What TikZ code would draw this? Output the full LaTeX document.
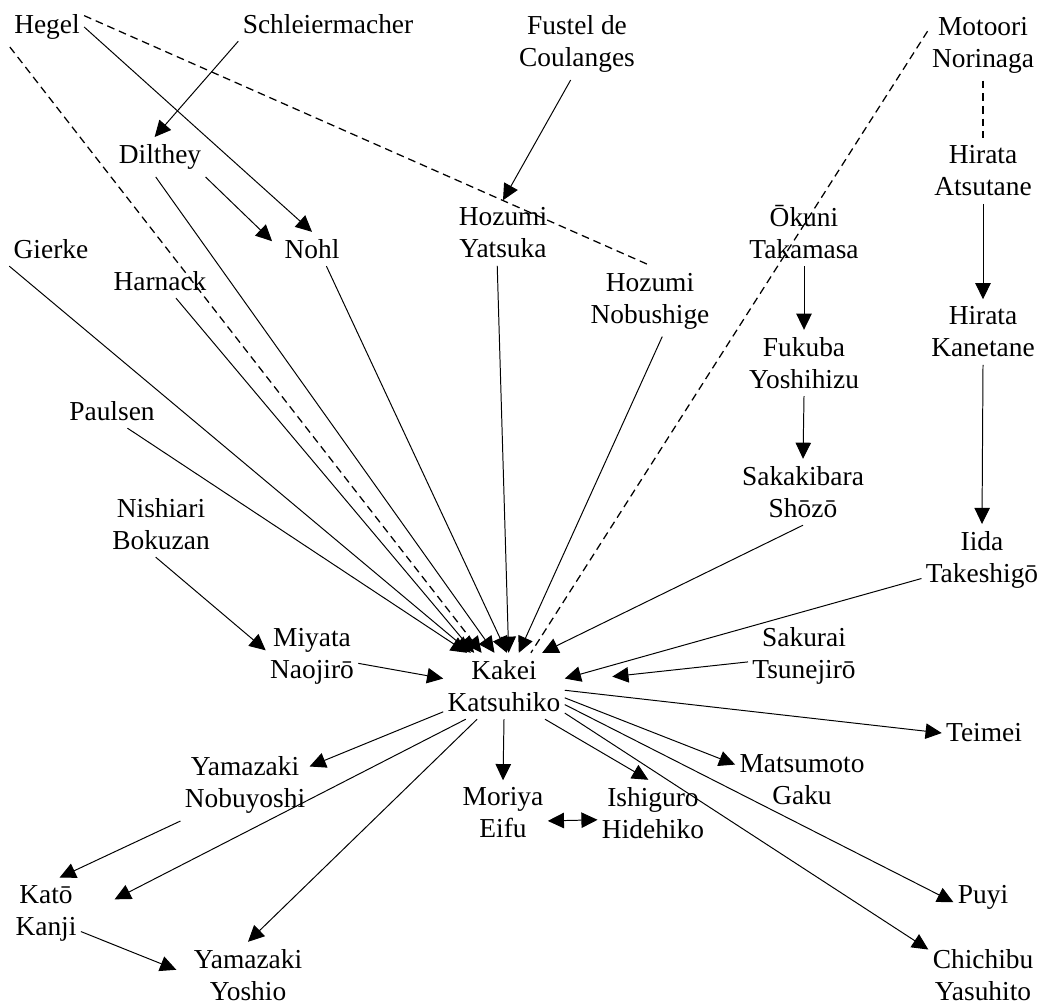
\documentclass[tikz,border=0pt]{standalone}
\usepackage{fontspec}
\setmainfont{Liberation Serif}
\usetikzlibrary{arrows.meta}

\begin{document}
\begin{tikzpicture}[x=0.25mm, y=-0.25mm, line width=0.7pt,
  >={Triangle[length=11.5pt,width=11pt]},
  person/.style={align=center, inner xsep=2.8pt, inner ysep=5pt,
    font=\fontsize{19.5}{22.8}\selectfont},
  faint/.style={dash pattern=on 5.5pt off 3.5pt, line width=0.9pt}]
  \useasboundingbox (0,0) rectangle (1046,1005);

  % top rows
  \node[person] (hegel) at (47,27) {Hegel};
  \node[person] (schl) at (328,24) {Schleiermacher};
  \node[person] (fustel) at (577,44) {Fustel de\\Coulanges};
  \node[person] (motoori) at (983,45) {Motoori\\Norinaga};
  \node[person] (dilthey) at (160,157) {Dilthey};
  \node[person] (atsutane) at (983,171) {Hirata\\Atsutane};
  \node[person] (gierke) at (51,249) {Gierke};
  \node[person] (nohl) at (312,249) {Nohl};
  \node[person] (hozumiy) at (503,233) {Hozumi\\Yatsuka};
  \node[person] (okuni) at (804,232) {Ōkuni\\Takamasa};
  \node[person] (harnack) at (160,281) {Harnack};
  \node[person] (hozumin) at (650,301) {Hozumi\\Nobushige};
  \node[person] (kanetane) at (983,332) {Hirata\\Kanetane};
  \node[person] (fukuba) at (804,363) {Fukuba\\Yoshihizu};
  \node[person] (paulsen) at (112,411) {Paulsen};
  \node[person] (sakakibara) at (803,492) {Sakakibara\\Shōzō};
  \node[person] (nishiari) at (161,524) {Nishiari\\Bokuzan};
  \node[person] (iida) at (982,560) {Iida\\Takeshigō};
  \node[person] (miyata) at (312,656) {Miyata\\Naojirō};
  \node[person] (sakurai) at (804,656) {Sakurai\\Tsunejirō};

  % centre
  \node[person] (kakei) at (504,686) {Kakei\\Katsuhiko};

  % lower rows
  \node[person] (teimei) at (984,733) {Teimei};
  \node[person] (nobuyoshi) at (245,785) {Yamazaki\\Nobuyoshi};
  \node[person] (matsumoto) at (802,780) {Matsumoto\\Gaku};
  \node[person] (moriya) at (503,813) {Moriya\\Eifu};
  \node[person] (ishiguro) at (653,813) {Ishiguro\\Hidehiko};
  \node[person] (puyi) at (983,897) {Puyi};
  \node[person] (kato) at (46,913) {Katō\\Kanji};
  \node[person] (yoshio) at (248,975) {Yamazaki\\Yoshio};
  \node[person] (chichibu) at (983,975) {Chichibu\\Yasuhito};

  % side lines
  \draw[->] (schl.south west) -- (dilthey.105);
  \draw[->] (hegel.east) -- (nohl.north);
  \draw[->, shorten >=8pt] (dilthey.south east) -- (nohl.west);
  \draw[->] (fustel.-100) -- (hozumiy.north);
  \draw[faint] (hegel.17) -- (hozumin.north);
  \draw[faint] (motoori.south) -- (atsutane.north);
  \draw[->] (atsutane.south) -- (kanetane.north);
  \draw[->] (kanetane.south) -- (iida.north);
  \draw[->] (okuni.south) -- (fukuba.north);
  \draw[->] (fukuba.south) -- (sakakibara.north);
  \draw[->] (nishiari.-99) -- (miyata.173);

  % into Kakei
  \draw[->] (gierke.south west) -- (kakei.135);
  \draw[->] (paulsen.-48) -- (kakei.138);
  \draw[->, faint] (hegel.south west) -- (kakei.124);
  \draw[->] (harnack.-47) -- (kakei.132);
  \draw[->] (dilthey.-102) -- (kakei.106);
  \draw[->] (nohl.-50) -- (kakei.85);
  \draw[->] (hozumiy.-100) -- (kakei.82);
  \draw[->] (hozumin.-71) -- (kakei.66);
  \draw[faint] (motoori.166) -- (kakei.51);
  \draw[->] (sakakibara.south) -- (kakei.41);
  \draw[->] (iida.-163) -- (kakei.7);
  \draw[->, shorten >=34pt] (sakurai.-174) -- (kakei.4);
  \draw[->] (miyata.-9) -- (kakei.173);

  % out of Kakei
  \draw[->] (kakei.-157) -- (nobuyoshi.16);
  \draw[->, shorten >=27pt] (kakei.-139) -- (kato.-6);
  \draw[->] (kakei.-129) -- (yoshio.north);
  \draw[->] (kakei.south) -- (moriya.north);
  \draw[->] (kakei.-39) -- (ishiguro.98);
  \draw[->] (kakei.-11) -- (matsumoto.167);
  \draw[->] (kakei.-4) -- (teimei.west);
  \draw[->] (kakei.-17) -- (puyi.-170);
  \draw[->] (kakei.-24) -- (chichibu.155);
  \draw[->] (nobuyoshi.south west) -- (kato.69);
  \draw[->, shorten >=10pt] (kato.-28) -- (yoshio.west);
  \draw[<->] (moriya.-10) -- (ishiguro.-173);
\end{tikzpicture}
\end{document}
